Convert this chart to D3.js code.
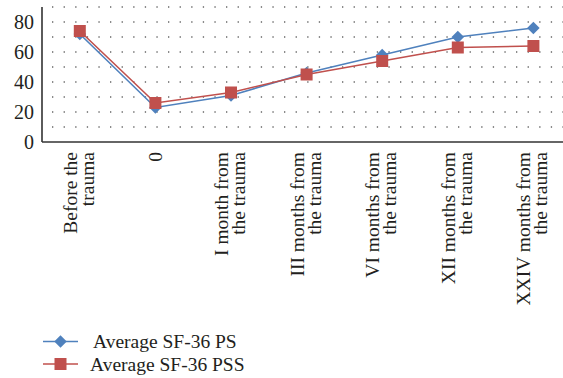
<!DOCTYPE html>
<html>
<head>
<meta charset="utf-8">
<script src="https://cdn.jsdelivr.net/npm/d3@7"></script>
<style>
  html, body { margin: 0; padding: 0; background: #fff; }
  svg { display: block; font-family: "Liberation Serif", "DejaVu Serif", serif; }
</style>
</head>
<body>
<svg id="chart" width="563" height="378"></svg>
<script>
// Time points after trauma (two-line labels)
const categories = [
  ["Before the", "trauma"],
  ["0"],
  ["I month from", "the trauma"],
  ["III months from", "the trauma"],
  ["VI months from", "the trauma"],
  ["XII months from", "the trauma"],
  ["XXIV months from", "the trauma"]
];
const seriesNames = ["Average SF-36 PS", "Average SF-36 PSS"];
const psValues  = [72, 23, 31, 46, 58, 70, 76];
const pssValues = [74, 26, 33, 45, 54, 63, 64];
const yTicks = [0, 20, 40, 60, 80];
const gridValues = [10, 20, 30, 40, 50, 60, 70, 80, 90];

const colors = ["#4F81BD", "#C0504D"];

const svg = d3.select("#chart");
const plotLeft = 42, plotTop = 7, plotBottom = 142;
const bandW = 75.6;

const x = d3.scaleBand()
  .domain(d3.range(categories.length))
  .range([plotLeft, plotLeft + bandW * categories.length])
  .padding(0);
const y = d3.scaleLinear().domain([0, 90]).range([plotBottom, plotTop]);

// Dotted horizontal gridlines
svg.append("g").selectAll("line").data(gridValues).join("line")
  .attr("x1", plotLeft).attr("x2", 563)
  .attr("y1", d => y(d)).attr("y2", d => y(d))
  .attr("stroke", "#666").attr("stroke-width", 1.3)
  .attr("stroke-dasharray", "1.3,10.3")
  .attr("stroke-dashoffset", -10);

// Y axis labels
const yAxis = d3.axisLeft(y).tickValues(yTicks).tickSize(0).tickPadding(6);
const gy = svg.append("g").attr("transform", `translate(${plotLeft},0)`).call(yAxis);
gy.select(".domain").remove();
gy.selectAll("text").attr("font-size", 20).attr("fill", "#231f20")
  .attr("font-family", "Liberation Serif, serif").attr("dx", -2);

// Axis lines
svg.append("line").attr("x1", plotLeft).attr("x2", plotLeft).attr("y1", plotTop).attr("y2", plotBottom)
  .attr("stroke", "#333").attr("stroke-width", 1.6);
svg.append("line").attr("x1", plotLeft).attr("x2", 563).attr("y1", plotBottom).attr("y2", plotBottom)
  .attr("stroke", "#333").attr("stroke-width", 1.6);

// Rotated category labels
const cx = i => x(i) + x.bandwidth() / 2;
const labels = svg.append("g").selectAll("text").data(categories).join("text")
  .attr("transform", (d, i) => `translate(${cx(i)},152) rotate(-90)`)
  .attr("text-anchor", "end")
  .attr("font-size", 19.5)
  .attr("fill", "#231f20");
labels.each(function(d) {
  const t = d3.select(this);
  if (d.length === 1) {
    t.append("tspan").attr("x", 0).attr("y", 6.5).text(d[0]);
  } else {
    t.append("tspan").attr("x", 0).attr("y", -3).text(d[0]);
    t.append("tspan").attr("x", 0).attr("y", 14).text(d[1]);
  }
});

// Series lines and markers
const line = d3.line().x((d, i) => cx(i)).y(d => y(d));
// Square symbol turned 45 degrees gives an even diamond
const diamond = d3.symbol().type(d3.symbolSquare).size(78);

const series = [psValues, pssValues];
series.forEach((vals, s) => {
  svg.append("path").datum(vals)
    .attr("d", line).attr("fill", "none")
    .attr("stroke", colors[s]).attr("stroke-width", 1.6);
});
svg.append("g").selectAll("path").data(psValues).join("path")
  .attr("d", diamond)
  .attr("transform", (d, i) => `translate(${cx(i)},${y(d)}) rotate(45)`)
  .attr("fill", colors[0]);
svg.append("g").selectAll("rect").data(pssValues).join("rect")
  .attr("x", (d, i) => cx(i) - 6).attr("y", d => y(d) - 6)
  .attr("width", 12).attr("height", 12)
  .attr("fill", colors[1]);

// Legend
const legend = svg.append("g");
const legY = [341.5, 364];
seriesNames.forEach((name, s) => {
  const g = legend.append("g").attr("transform", `translate(0,${legY[s]})`);
  g.append("line").attr("x1", 43).attr("x2", 78).attr("y1", 0).attr("y2", 0)
    .attr("stroke", colors[s]).attr("stroke-width", 1.6);
  if (s === 0) {
    g.append("path").attr("d", diamond).attr("transform", "translate(60.5,0) rotate(45)").attr("fill", colors[0]);
  } else {
    g.append("rect").attr("x", 54.5).attr("y", -6).attr("width", 12).attr("height", 12).attr("fill", colors[1]);
  }
  g.append("text").attr("x", s === 0 ? 93 : 90).attr("y", 6.5)
    .attr("font-size", 19.5).attr("fill", "#231f20").text(name);
});
</script>
</body>
</html>
